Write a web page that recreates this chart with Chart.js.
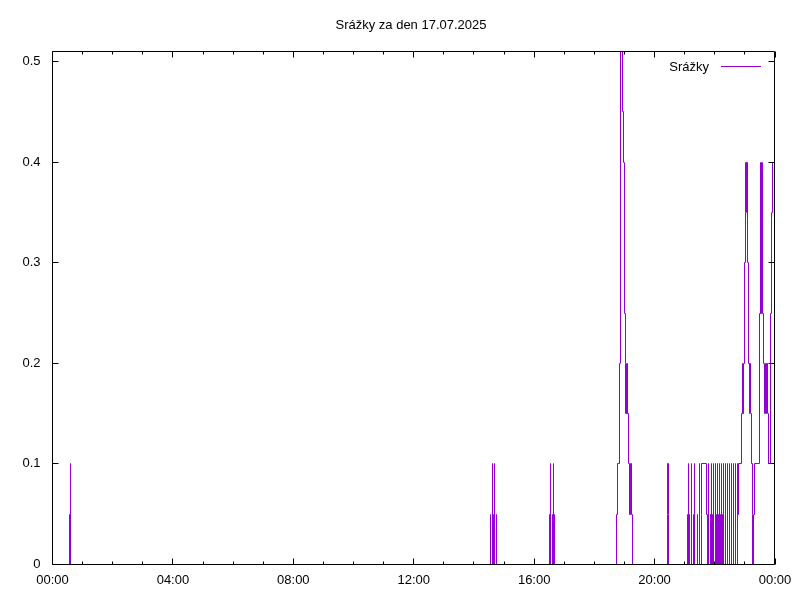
<!DOCTYPE html>
<html>
<head>
<meta charset="utf-8">
<script src="https://cdn.jsdelivr.net/npm/chart.js@4.4.1/dist/chart.umd.min.js"></script>
<style>
  html, body { margin: 0; padding: 0; background: #fff; }
  #c { display: block; }
</style>
</head>
<body>
<canvas id="c" width="800" height="600"></canvas>
<script>
// ---------- DATA (step series: value holds until the next time) ----------
const chartTitle = "Srážky za den 17.07.2025";
const seriesName = "Srážky";

// night / afternoon showers
const timesA = ["00:00",
  "00:34","00:35","00:36","00:37",
  "14:33","14:34","14:36","14:37","14:38","14:39","14:41","14:42","14:44","14:45",
  "16:31","16:32","16:33","16:34","16:36","16:37","16:38","16:39","16:41","16:42"];
const valuesA = [0,
  0.05, 0.1, 0.05, 0,
  0.05, 0, 0.1, 0, 0.05, 0, 0.1, 0, 0.05, 0,
  0.05, 0, 0.1, 0, 0.05, 0, 0.1, 0, 0.05, 0];

// evening storm
const timesB = ["18:45","18:47","18:50","18:53","18:56","18:58","19:00","19:02","19:03",
  "19:04","19:05","19:06","19:07","19:09","19:11","19:12","19:14","19:16",
  "20:25","20:26","20:27","20:28"];
const valuesB = [0.05, 0.1, 0.2, 0.51, 0.45, 0.4, 0.25, 0.2, 0.15,
  0.2, 0.15, 0.2, 0.15, 0.1, 0.05, 0.1, 0.05, 0,
  0.05, 0.1, 0.05, 0];

// late evening drizzle
const timesC = ["21:05","21:06","21:07","21:08","21:10","21:11","21:14","21:15","21:17","21:18",
  "21:20","21:21","21:26","21:27","21:30","21:31","21:33","21:34","21:44","21:46",
  "21:48","21:49","21:51","21:52","21:54","21:55","21:56","21:57","21:58","21:59",
  "22:02","22:03","22:04","22:05","22:06","22:07","22:08","22:09","22:10","22:11",
  "22:12","22:13","22:14","22:15","22:16","22:17","22:18","22:19","22:22","22:23",
  "22:26","22:27","22:30","22:31","22:34","22:35","22:38","22:39","22:42","22:43",
  "22:45","22:46","22:47"];
const valuesC = [0.05, 0, 0.1, 0, 0.05, 0, 0.1, 0, 0.05, 0,
  0.1, 0, 0.05, 0, 0.1, 0, 0.05, 0.1, 0.05, 0,
  0.1, 0, 0.05, 0, 0.1, 0, 0.05, 0, 0.1, 0,
  0.1, 0, 0.05, 0, 0.1, 0, 0.05, 0, 0.1, 0,
  0.05, 0, 0.1, 0, 0.05, 0, 0.1, 0, 0.1, 0,
  0.1, 0, 0.1, 0, 0.1, 0, 0.1, 0, 0.1, 0,
  0.1, 0.05, 0.1];

// before midnight
const timesD = ["22:53","22:55","22:56","22:57","23:00","23:01","23:02","23:03","23:04","23:06",
  "23:08","23:09","23:10","23:11","23:13","23:16","23:17","23:18","23:19","23:29",
  "23:31","23:32","23:33","23:35","23:37","23:40","23:41","23:43","23:44","23:45",
  "23:47","23:51","23:53","23:55","23:59"];
const valuesD = [0.15, 0.2, 0.15, 0.2, 0.3, 0.35, 0.4, 0.35, 0.4, 0.3,
  0.2, 0.15, 0.2, 0.15, 0.1, 0.05, 0, 0.05, 0.1, 0.25,
  0.4, 0.25, 0.4, 0.25, 0.2, 0.15, 0.2, 0.15, 0.2, 0.15,
  0.1, 0.25, 0.35, 0.4, 0.4];

const xTickValues = [0, 240, 480, 720, 960, 1200, 1440];
const xTickLabels = ["00:00", "04:00", "08:00", "12:00", "16:00", "20:00", "00:00"];
const xMinorValues = [60,120,180,300,360,420,540,600,660,780,840,900,1020,1080,1140,1260,1320,1380];
const yTickValues = [0, 0.1, 0.2, 0.3, 0.4, 0.5];
const yTickLabels = ["0", "0.1", "0.2", "0.3", "0.4", "0.5"];
const xMin = 0, xMax = 1440, yMin = 0, yMax = 0.51;

// ---------- build table for Chart.js ----------
function toMinutes(s) { const p = s.split(":"); return (+p[0]) * 60 + (+p[1]); }
const allTimes = timesA.concat(timesB, timesC, timesD);
const allValues = valuesA.concat(valuesB, valuesC, valuesD);
const points = allTimes.map((t, i) => ({ x: toMinutes(t), y: allValues[i] }));

const FONT = '"Liberation Sans", Arial, sans-serif';
const FONT_SIZE = 13;

// snap the scale-computed point positions to the pixel grid (crisp steps,
// a return to zero closer than one pixel stays in the same pixel column)
const snapPlugin = {
  id: 'snapPixels',
  beforeDatasetsDraw(chart) {
    const pts = chart.getDatasetMeta(0).data;
    let prevRaw = -Infinity, prevCol = null;
    pts.forEach((p, i) => {
      const raw = p.x;
      let col = Math.floor(raw);
      if (prevCol !== null && allValues[i] === 0 && raw - prevRaw < 1) col = prevCol;
      p.x = col + 0.5;
      p.y = Math.floor(p.y) + 0.5;
      prevRaw = raw; prevCol = col;
    });
  }
};

const framePlugin = {
  id: 'gnuFrame',
  afterDatasetsDraw(chart) {
    const ctx = chart.ctx, a = chart.chartArea;
    const xs = chart.scales.x, ys = chart.scales.y;
    const L = Math.floor(a.left) + 0.5, R = Math.floor(a.right) - 0.5;
    const T = Math.floor(a.top) + 0.5, B = Math.floor(a.bottom) + 0.5;
    ctx.save();
    ctx.strokeStyle = '#000';
    ctx.lineWidth = 1;
    ctx.beginPath();
    ctx.rect(L, T, R - L, B - T);
    xTickValues.forEach(v => {
      const px = Math.floor(xs.getPixelForValue(v)) + 0.5;
      ctx.moveTo(px, B); ctx.lineTo(px, B - 6);
      ctx.moveTo(px, T); ctx.lineTo(px, T + 6);
    });
    xMinorValues.forEach(v => {
      const px = Math.floor(xs.getPixelForValue(v)) + 0.5;
      ctx.moveTo(px, B); ctx.lineTo(px, B - 3);
      ctx.moveTo(px, T); ctx.lineTo(px, T + 3);
    });
    yTickValues.forEach(v => {
      const py = Math.floor(ys.getPixelForValue(v)) + 0.5;
      ctx.moveTo(L, py); ctx.lineTo(L + 6, py);
      ctx.moveTo(R, py); ctx.lineTo(R - 6, py);
    });
    ctx.stroke();
    ctx.restore();
  }
};

const textPlugin = {
  id: 'gnuTexts',
  afterDraw(chart) {
    const ctx = chart.ctx;
    ctx.save();
    ctx.font = FONT_SIZE + 'px ' + FONT;
    ctx.fillStyle = '#000';
    ctx.textBaseline = 'middle';
    ctx.textAlign = 'center';
    ctx.fillText(chartTitle, 411, 25);
    ctx.textAlign = 'right';
    ctx.fillText(seriesName, 709, 67);
    ctx.strokeStyle = '#9400d3';
    ctx.lineWidth = 1;
    ctx.beginPath();
    ctx.moveTo(721, 66.5);
    ctx.lineTo(761, 66.5);
    ctx.stroke();
    ctx.restore();
  }
};

new Chart(document.getElementById('c'), {
  type: 'line',
  data: {
    datasets: [{
      label: seriesName,
      data: points,
      stepped: true,
      borderColor: '#9400d3',
      borderWidth: 1,
      pointRadius: 0,
      fill: false,
      tension: 0
    }]
  },
  options: {
    responsive: false,
    animation: false,
    events: [],
    layout: { padding: { left: 0, right: 25, top: 51.5, bottom: 0 } },
    plugins: {
      legend: { display: false },
      tooltip: { enabled: false },
      title: { display: false }
    },
    scales: {
      x: {
        type: 'linear',
        min: xMin, max: xMax,
        grid: { display: false, drawTicks: false },
        border: { display: false },
        ticks: {
          color: '#000', font: { family: FONT, size: FONT_SIZE },
          padding: 8, maxRotation: 0, autoSkip: false,
          callback: (v, i) => xTickLabels[i]
        },
        afterBuildTicks: s => { s.ticks = xTickValues.map(v => ({ value: v })); },
        afterFit: s => { s.height = 35.5; }
      },
      y: {
        type: 'linear',
        min: yMin, max: yMax,
        grid: { display: false, drawTicks: false },
        border: { display: false },
        ticks: {
          color: '#000', font: { family: FONT, size: FONT_SIZE },
          padding: 12, autoSkip: false,
          callback: (v, i) => yTickLabels[i]
        },
        afterBuildTicks: s => { s.ticks = yTickValues.map(v => ({ value: v })); },
        afterFit: s => { s.width = 52.5; }
      }
    }
  },
  plugins: [snapPlugin, framePlugin, textPlugin]
});
</script>
</body>
</html>
